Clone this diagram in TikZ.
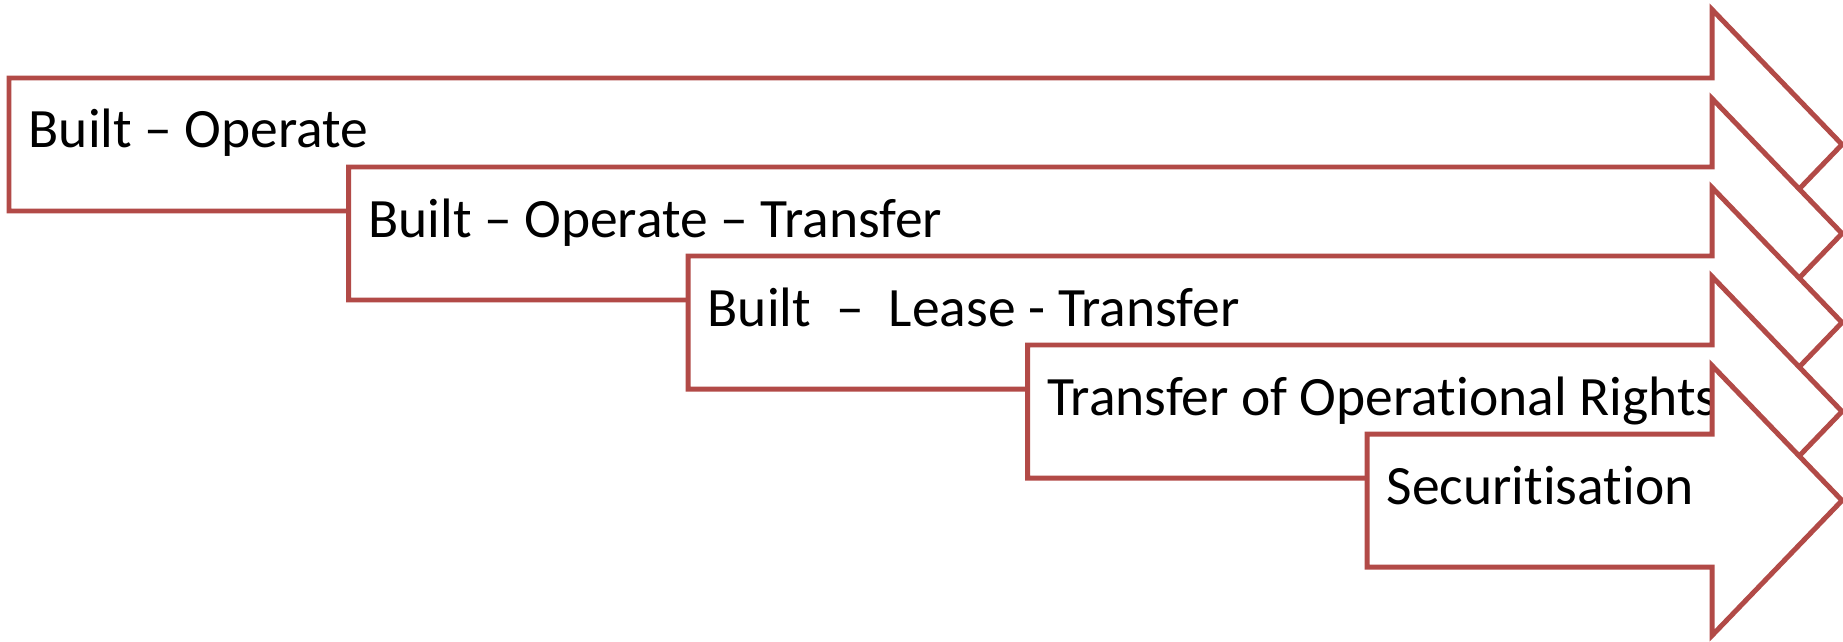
\documentclass[tikz,border=0pt]{standalone}
\usepackage{fontspec}
\setmainfont[Ligatures={NoCommon}]{Carlito}
\usepackage{tikz}
\usetikzlibrary{positioning}
\definecolor{arrowred}{RGB}{178,74,71}

\begin{document}
\begin{tikzpicture}[y=-1cm,
  steparrow/.style={draw=arrowred,fill=white,line width=1.42pt},
  steplabel/.style={anchor=base west,inner sep=0pt,font=\fontsize{15.8}{18}\selectfont}]
  \useasboundingbox (0,0) rectangle (18.43,6.41);
  % five stepped arrows, each drawn over the one before
  \foreach \i/\txt in {0/{Built – Operate},1/{Built – Operate – Transfer},2/{Built\ \ –\ \ Lease - Transfer},3/{Transfer of Operational Rights},4/{Securitisation}}{
    \pgfmathsetmacro{\xl}{0.09+3.395*\i}
    \pgfmathsetmacro{\yt}{0.78+0.89*\i}
    \draw[steparrow] (\xl,\yt) -- (17.12,\yt) -- (17.12,\yt-0.685) -- (18.42,\yt+0.665)
      -- (17.12,\yt+2.015) -- (17.12,\yt+1.33) -- (\xl,\yt+1.33) -- cycle;
    \node[steplabel] (label\i) at (\xl+0.19,\yt+0.70) {\txt};
  }
\end{tikzpicture}
\end{document}
